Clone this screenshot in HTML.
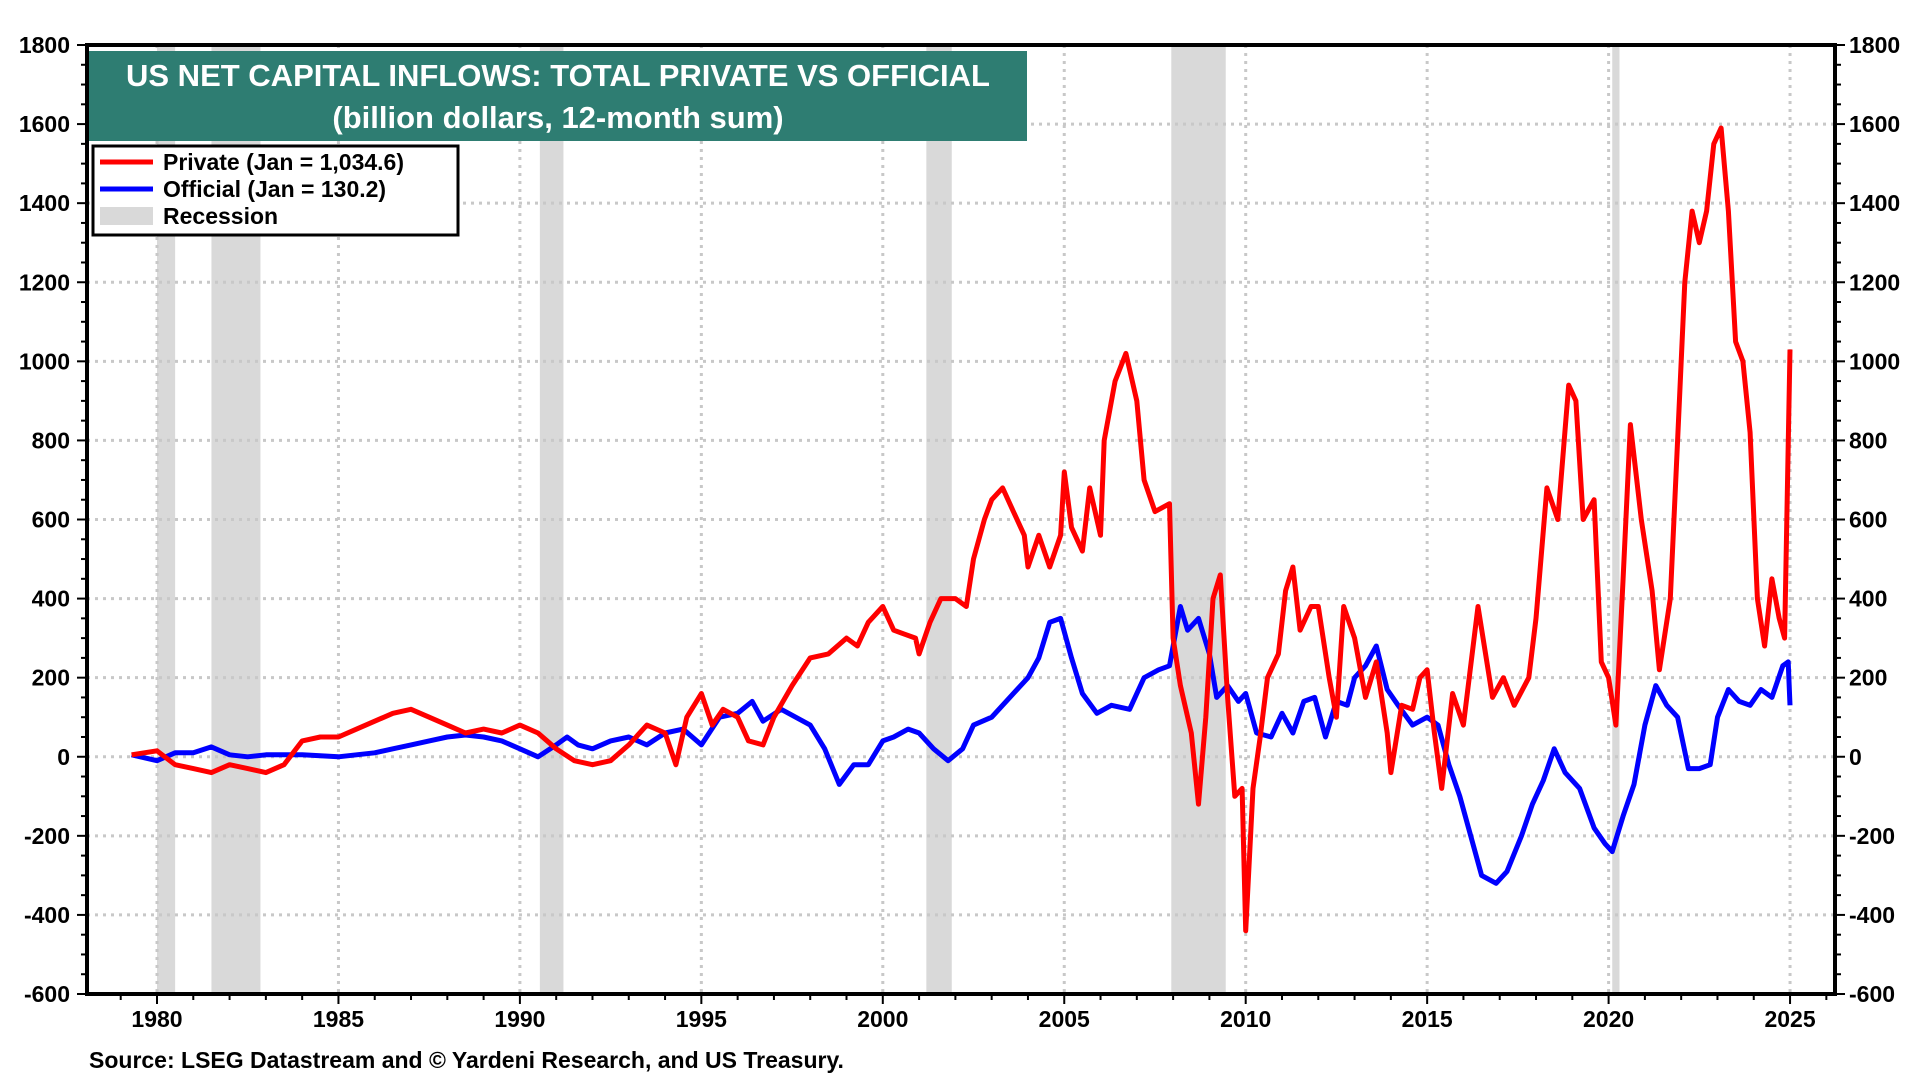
<!DOCTYPE html>
<html><head><meta charset="utf-8">
<style>
html,body{margin:0;padding:0;background:#fff;}
svg{display:block;font-family:"Liberation Sans",Arial,sans-serif;font-weight:bold;}
</style></head>
<body>
<svg id="chart" width="1920" height="1080" viewBox="0 0 1920 1080" xmlns="http://www.w3.org/2000/svg">
<g id="rec"></g>
<g id="grid"></g>
<g id="series"></g>
<g id="axes"></g>
<rect x="89" y="51" width="938" height="90" fill="#2e7d72"/>
<text x="558" y="86" fill="#fff" font-size="31" text-anchor="middle">US NET CAPITAL INFLOWS: TOTAL PRIVATE VS OFFICIAL</text>
<text x="558" y="128" fill="#fff" font-size="31" text-anchor="middle">(billion dollars, 12-month sum)</text>
<g>
<rect x="93" y="146" width="365" height="89" fill="#fff" stroke="#000" stroke-width="3"/>
<line x1="100" y1="162" x2="153" y2="162" stroke="#ff0000" stroke-width="5"/>
<text x="163" y="170" font-size="23">Private (Jan = 1,034.6)</text>
<line x1="100" y1="189" x2="153" y2="189" stroke="#0000ff" stroke-width="5"/>
<text x="163" y="197" font-size="23">Official (Jan = 130.2)</text>
<rect x="100" y="207" width="53" height="18" fill="#d9d9d9"/>
<text x="163" y="224" font-size="23">Recession</text>
</g>
<text x="89" y="1068" font-size="23">Source: LSEG Datastream and © Yardeni Research, and US Treasury.</text>
</svg>
<script>
const yTicks=[-600,-400,-200,0,200,400,600,800,1000,1200,1400,1600,1800];
const xTickYears=[1980,1985,1990,1995,2000,2005,2010,2015,2020,2025];
const recStart=[1980.0,1981.5,1990.55,2001.2,2007.95,2020.1];
const recEnd=[1980.5,1982.85,1991.2,2001.9,2009.45,2020.3];
const privDates=[1979.3,1980,1980.5,1981,1981.5,1982,1982.5,1983,1983.5,1984,1984.5,1985,1985.5,1986,1986.5,1987,1987.5,1988,1988.5,1989,1989.5,1990,1990.5,1991,1991.5,1992,1992.5,1993,1993.5,1994,1994.3,1994.6,1995,1995.3,1995.6,1996,1996.3,1996.7,1997,1997.5,1998,1998.5,1999,1999.3,1999.6,2000,2000.3,2000.6,2000.9,2001,2001.3,2001.6,2002,2002.3,2002.5,2002.8,2003,2003.3,2003.6,2003.9,2004,2004.3,2004.6,2004.9,2005,2005.2,2005.5,2005.7,2006,2006.1,2006.4,2006.7,2007,2007.2,2007.5,2007.9,2008,2008.2,2008.5,2008.7,2008.9,2009.1,2009.3,2009.5,2009.7,2009.9,2010,2010.2,2010.4,2010.6,2010.9,2011.1,2011.3,2011.5,2011.8,2012,2012.3,2012.5,2012.7,2013,2013.3,2013.6,2013.9,2014,2014.3,2014.6,2014.8,2015,2015.2,2015.4,2015.7,2016,2016.4,2016.8,2017.1,2017.4,2017.8,2018,2018.3,2018.6,2018.9,2019.1,2019.3,2019.6,2019.8,2020.0,2020.2,2020.4,2020.6,2020.9,2021.2,2021.4,2021.7,2021.9,2022.1,2022.3,2022.5,2022.7,2022.9,2023.1,2023.3,2023.5,2023.7,2023.9,2024.1,2024.3,2024.5,2024.7,2024.85,2025.0];
const privVals=[5,15,-20,-30,-40,-20,-30,-40,-20,40,50,50,70,90,110,120,100,80,60,70,60,80,60,20,-10,-20,-10,30,80,60,-20,100,160,80,120,100,40,30,100,180,250,260,300,280,340,380,320,310,300,260,340,400,400,380,500,600,650,680,620,560,480,560,480,560,720,580,520,680,560,800,950,1020,900,700,620,640,300,180,60,-120,100,400,460,150,-100,-80,-440,-80,50,200,260,420,480,320,380,380,200,100,380,300,150,240,60,-40,130,120,200,220,60,-80,160,80,380,150,200,130,200,350,680,600,940,900,600,650,240,200,80,450,840,600,420,220,400,800,1200,1380,1300,1380,1550,1590,1380,1050,1000,820,400,280,450,350,300,1030];
const offDates=[1979.3,1980,1980.5,1981,1981.5,1982,1982.5,1983,1984,1985,1986,1986.5,1987,1987.5,1988,1988.5,1989,1989.5,1990,1990.5,1991,1991.3,1991.6,1992,1992.5,1993,1993.5,1994,1994.5,1995,1995.5,1996,1996.4,1996.7,1997.2,1997.6,1998,1998.4,1998.8,1999.2,1999.6,2000,2000.3,2000.7,2001,2001.4,2001.8,2002.2,2002.5,2003,2003.5,2004,2004.3,2004.6,2004.9,2005.2,2005.5,2005.9,2006.3,2006.8,2007.2,2007.6,2007.9,2008.2,2008.4,2008.7,2009,2009.2,2009.5,2009.8,2010,2010.3,2010.7,2011,2011.3,2011.6,2011.9,2012.2,2012.5,2012.8,2013,2013.3,2013.6,2013.9,2014.2,2014.6,2015,2015.3,2015.6,2015.9,2016.2,2016.5,2016.9,2017.2,2017.6,2017.9,2018.2,2018.5,2018.8,2019.2,2019.6,2019.9,2020.1,2020.4,2020.7,2021,2021.3,2021.6,2021.9,2022.2,2022.5,2022.8,2023,2023.3,2023.6,2023.9,2024.2,2024.5,2024.8,2024.95,2025.0];
const offVals=[5,-10,10,10,25,5,0,5,5,0,10,20,30,40,50,55,50,40,20,0,30,50,30,20,40,50,30,60,70,30,100,110,140,90,120,100,80,20,-70,-20,-20,40,50,70,60,20,-10,20,80,100,150,200,250,340,350,250,160,110,130,120,200,220,230,380,320,350,260,150,180,140,160,60,50,110,60,140,150,50,140,130,200,230,280,170,130,80,100,80,-20,-100,-200,-300,-320,-290,-200,-120,-60,20,-40,-80,-180,-220,-240,-150,-70,80,180,130,100,-30,-30,-20,100,170,140,130,170,150,230,240,130];

const L=87,R=1835,T=45,B=994;
const X=y=>157+(y-1980)*36.29;
const Y=v=>B-(v+600)*(B-T)/2400;
const NS='http://www.w3.org/2000/svg';
function mk(tag,parent,attrs){const e=document.createElementNS(NS,tag);for(const k in attrs)e.setAttribute(k,attrs[k]);document.getElementById(parent).appendChild(e);return e;}

recStart.forEach((s,i)=>{
  const e=mk('rect','rec',{x:X(s),y:T,width:X(recEnd[i])-X(s),height:B-T,fill:'#d9d9d9'});
  
  
});
yTicks.forEach(v=>{
  if(v>-600&&v<1800){
    const g=mk('line','grid',{x1:L,x2:R,y1:Y(v),y2:Y(v),stroke:'#c8c8c8','stroke-width':3,'stroke-dasharray':'3 5'});
    
    
  }
  const t1=mk('text','axes',{x:70,y:Y(v)+8,'font-size':23,'text-anchor':'end'});
  t1.textContent=v;
  
  
  const t2=mk('text','axes',{x:1849,y:Y(v)+8,'font-size':23});
  t2.textContent=v;
  
  
});
for(let v=-600;v<=1800;v+=50){
  const len=(v%200===0)?10:6;
  mk('line','axes',{x1:L-len,x2:L,y1:Y(v),y2:Y(v),stroke:'#000','stroke-width':2});
  mk('line','axes',{x1:R,x2:R+len,y1:Y(v),y2:Y(v),stroke:'#000','stroke-width':2});
}
xTickYears.forEach(yr=>{
  const g=mk('line','grid',{x1:X(yr),x2:X(yr),y1:T,y2:B,stroke:'#c8c8c8','stroke-width':3,'stroke-dasharray':'3 5'});
  
  
  const t=mk('text','axes',{x:X(yr),y:1027,'font-size':23,'text-anchor':'middle'});
  t.textContent=yr;
  
  
});
for(let yr=1979;yr<=2026;yr++){
  mk('line','axes',{x1:X(yr),x2:X(yr),y1:B,y2:B+(yr%5===0?10:6),stroke:'#000','stroke-width':2});
}
function line(d,v,color,name){
  const p=d.map((x,i)=>(i?'L':'M')+X(x).toFixed(1)+','+Y(v[i]).toFixed(1)).join('');
  const e=mk('path','series',{d:p,fill:'none',stroke:color,'stroke-width':5,'stroke-linejoin':'round'});
  
  
}
line(offDates,offVals,'#0000ff','official-line');
line(privDates,privVals,'#ff0000','private-line');
const f=mk('rect','axes',{x:L,y:T,width:R-L,height:B-T,fill:'none',stroke:'#000','stroke-width':4});


</script>
</body></html>
